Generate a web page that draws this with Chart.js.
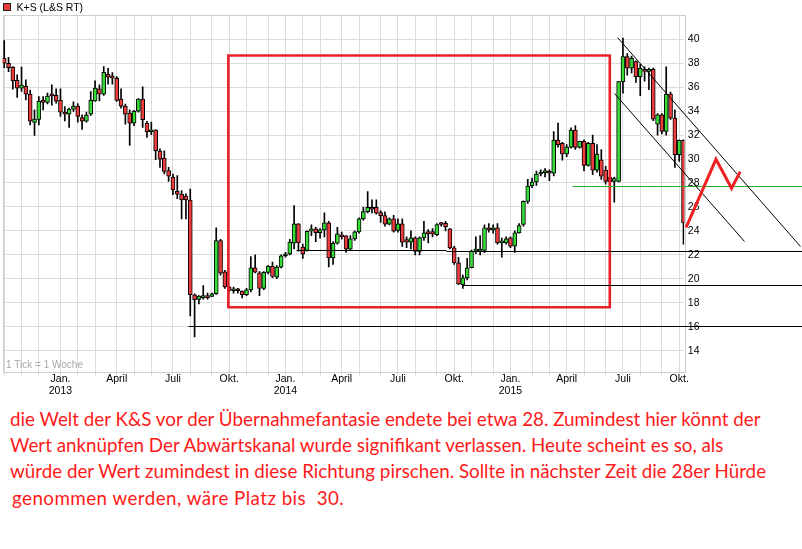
<!DOCTYPE html>
<html>
<head>
<meta charset="utf-8">
<script src="https://cdn.jsdelivr.net/npm/chart.js@4.4.1/dist/chart.umd.min.js"></script>
<style>
body { margin: 0; background: #fff; }
#box { position: relative; width: 802px; height: 400px; }
#note { position: absolute; left: 10px; top: 406px; font-family: Lato, sans-serif; font-size: 18.8px; line-height: 26.2px; color: #ff1a1a; white-space: nowrap; }
#note span { display: block; }
</style>
</head>
<body>
<div id="box"><canvas id="kurs" width="802" height="400"></canvas></div>
<div id="note">
<span>die Welt der K&amp;S vor der Übernahmefantasie endete bei etwa 28. Zumindest hier könnt der</span>
<span>Wert anknüpfen Der Abwärtskanal wurde signifikant verlassen. Heute scheint es so, als</span>
<span>würde der Wert zumindest in diese Richtung pirschen. Sollte in nächster Zeit die 28er Hürde</span>
<span style="letter-spacing:0.45px;padding-left:2px">genommen werden, wäre Platz bis&nbsp; 30.</span>
</div>
<script>
// weekly candles, first week starts monday 2012-10-01
const firstWeek = Date.UTC(2012, 9, 1)

const open = [38.42,38.00,37.67,36.58,35.92,36.08,35.42,33.06,33.31,34.92,34.72,35.36,35.33,34.92,33.92,33.75,34.17,34.42,33.47,33.17,
  33.75,34.86,35.86,35.42,37.08,36.94,36.75,35.00,34.42,33.83,33.00,34.00,35.00,33.00,32.28,32.42,30.67,30.08,29.03,28.50,
  27.33,27.08,26.90,26.58,18.67,18.28,18.42,18.58,18.53,18.75,23.19,20.58,19.33,19.00,19.03,18.97,18.67,19.08,20.92,20.50,
  19.19,20.53,21.03,20.14,20.97,21.92,22.08,22.97,24.58,22.64,22.36,23.97,24.17,23.86,24.08,24.67,21.75,22.97,23.60,23.58,
  22.47,23.33,23.92,25.00,25.61,25.97,25.97,25.53,25.28,24.56,25.00,24.03,24.58,23.28,23.06,23.42,22.28,23.42,23.94,23.94,
  23.69,24.64,24.64,24.17,22.58,21.33,19.50,20.08,20.92,22.31,22.31,22.36,24.25,24.08,24.25,23.00,23.00,23.42,22.72,23.83,
  24.53,26.47,27.75,28.08,28.75,28.86,28.97,28.81,31.58,31.31,30.42,31.00,32.42,30.97,31.47,29.47,31.31,29.08,29.94,29.08,
  28.47,28.14,28.14,36.47,38.56,37.58,38.14,36.89,37.50,37.31,37.50,32.92,33.69,32.31,35.42,33.42,30.36,31.56]
const high = [39.89,38.50,37.72,37.03,37.69,36.61,35.75,34.11,35.22,35.22,35.50,36.19,35.86,35.86,34.39,34.25,34.78,34.64,33.69,33.92,
  35.64,36.53,36.19,37.72,37.58,37.22,36.89,35.86,34.58,34.11,34.06,35.06,36.03,33.14,33.08,32.47,30.86,30.69,29.31,28.75,
  28.61,27.36,27.10,27.50,18.75,18.60,19.44,18.80,18.80,24.25,23.30,20.70,19.40,19.30,19.20,19.00,19.20,21.86,22.00,20.60,
  20.60,21.10,21.40,21.10,22.00,22.20,23.30,26.11,24.60,22.90,24.00,24.50,24.30,24.20,25.50,24.80,23.10,24.30,23.90,23.60,
  23.60,24.00,25.10,25.97,27.28,26.60,26.60,25.70,25.60,25.10,25.30,25.00,25.00,23.50,24.00,23.50,23.50,24.80,24.10,24.20,
  24.60,24.70,24.80,24.20,22.70,21.80,20.30,21.70,22.40,23.50,23.60,24.50,24.60,24.50,24.60,23.40,23.50,23.50,24.00,24.60,
  26.50,28.30,28.40,29.00,29.10,29.20,29.10,32.30,33.00,31.40,31.20,32.60,32.80,31.50,31.60,31.40,32.00,31.20,30.80,29.40,
  28.80,28.50,36.50,40.10,38.80,38.60,38.20,37.90,37.70,37.60,37.60,33.80,33.80,37.70,35.60,34.10,31.60,31.60]
const low = [37.64,37.30,35.83,35.14,35.64,34.94,32.86,31.97,32.86,34.11,34.61,34.50,34.67,33.56,33.19,32.64,33.97,33.08,32.47,33.08,
  33.64,34.81,34.86,35.31,36.25,36.25,34.81,34.25,32.92,31.14,32.78,33.92,32.64,31.81,32.03,29.94,29.31,28.75,28.14,27.03,
  26.69,25.00,25.00,16.89,15.14,17.90,18.30,18.30,18.50,18.70,20.30,19.20,18.90,18.80,18.80,18.40,18.60,18.90,20.50,18.60,
  19.10,20.40,20.10,20.00,20.90,21.80,22.00,22.50,22.30,21.70,22.30,23.60,23.10,23.40,23.50,21.00,21.20,22.90,23.30,22.20,
  22.40,23.20,23.80,24.90,25.50,25.50,25.40,24.70,24.40,24.50,23.90,23.90,22.70,22.60,22.50,22.00,22.00,23.20,23.00,23.50,
  23.60,24.40,24.00,22.50,21.20,19.50,19.20,19.90,20.90,22.10,22.00,22.20,23.90,23.80,22.90,21.80,22.90,22.60,22.20,23.80,
  24.40,26.30,27.60,27.80,28.60,28.50,28.20,28.60,31.00,29.90,30.20,30.90,30.80,30.90,29.00,29.40,28.70,28.90,28.30,27.90,
  27.00,26.40,28.10,35.50,37.00,37.20,36.40,35.30,36.50,35.80,33.20,32.00,32.10,32.00,33.30,29.30,29.80,22.90]
const close = [38.00,37.64,36.53,35.92,36.17,35.42,33.17,33.33,34.83,34.72,35.25,35.28,34.83,33.92,33.75,34.17,34.42,33.56,33.17,33.67,
  34.92,35.92,35.42,37.25,36.83,36.75,34.89,34.42,33.75,33.00,34.00,35.00,33.28,32.28,32.42,30.69,30.00,28.97,28.56,27.42,
  27.06,26.58,26.58,18.67,18.25,18.56,18.58,18.42,18.75,23.19,20.47,19.33,19.03,19.10,19.00,18.67,19.08,20.92,20.56,19.19,
  20.53,21.03,20.19,20.97,21.92,22.08,23.06,24.58,23.00,22.08,23.97,24.17,23.86,24.08,24.67,21.75,22.97,23.75,23.50,22.47,
  23.33,23.92,25.00,25.61,25.97,25.81,25.47,25.28,24.56,25.00,23.97,24.58,23.06,23.06,23.42,22.28,23.42,23.83,23.75,23.72,
  24.53,24.53,24.36,22.58,21.33,19.58,20.08,20.92,22.31,22.42,22.42,24.25,24.08,24.25,23.00,23.05,23.33,22.72,23.83,24.44,
  26.47,27.75,28.08,28.75,28.92,28.97,28.81,31.58,31.19,30.42,31.00,32.42,30.97,31.47,29.47,31.31,29.08,30.42,28.56,28.14,
  28.08,28.36,36.47,38.56,37.58,38.42,36.89,37.58,37.31,37.50,33.33,33.69,32.31,35.42,33.42,30.36,31.56,24.67]

const monthNames = ['Jan.', '', '', 'April', '', '', 'Juli', '', '', 'Okt.', '', '']
const yTickValues = [14, 16, 18, 20, 22, 24, 26, 28, 30, 32, 34, 36, 38, 40]

// drawings on the chart, in (week, price)
const redBox = [[51.8, 38.65], [139.96, 38.65], [139.96, 17.62], [51.8, 17.62]]
const blackLevels = [
  [[42.55, 16.07], [184.4, 16.07]],
  [[67.4, 22.41], [102.1, 22.41]],
  [[102.1, 22.3], [184.4, 22.3]],
  [[105.7, 19.48], [184.4, 19.48]]
]
const greenLevel = [[131.2, 27.75], [184.4, 27.78]]
const channel = [
  [[141.7, 40.22], [183.9, 22.74]],
  [[141.0, 35.49], [171.0, 23.18]]
]
const zigzag = [[157.6, 24.30], [164.5, 29.98], [168.1, 27.56], [170.1, 28.94]]

const GREEN = '#35dc35'
const RED = '#ee3c3c'

// month grid: week that holds the 1st of the month (sunday counts to next week)
const monthTicks = []
for (let y = 2012, m = 9; y < 2015 || (y === 2015 && m <= 9);) {
  const days = (Date.UTC(y, m, 1) - firstWeek) / 864e5
  const week = Math.floor((days + 1) / 7)
  let label = week > 3 ? monthNames[m] : ''
  if (label && m === 0) label = [label, String(y)]
  monthTicks.push({ week, label })
  m++
  if (m > 11) { m = 0; y++ }
}

const bodies = open.map((o, i) => ({ x: i, y: [Math.min(o, close[i]), Math.max(o, close[i])] }))
const wicks = low.map((l, i) => ({ x: i, y: [l, high[i]] }))
const bodyColors = open.map((o, i) => close[i] >= o ? GREEN : RED)

const lines = [
  { pts: redBox, color: '#e8202a', width: 2.6, closed: true },
  ...blackLevels.map(p => ({ pts: p, color: '#000', width: 1 })),
  { pts: greenLevel, color: '#27b027', width: 1 },
  ...channel.map(p => ({ pts: p, color: '#000', width: 1 })),
  { pts: zigzag, color: '#ee2222', width: 3 }
]

const extras = {
  id: 'extras',
  beforeDatasetsDraw(chart) {
    const { ctx, chartArea: a } = chart
    ctx.save()
    ctx.strokeStyle = '#cfcfcf'
    ctx.lineWidth = 1
    ctx.strokeRect(Math.round(a.left) + 0.5, Math.round(a.top) + 0.5, Math.round(a.right - a.left), Math.round(a.bottom - a.top))
    ctx.fillStyle = '#a8a8a8'
    ctx.font = '10px "Liberation Sans"'
    ctx.fillText('1 Tick = 1 Woche', 6, 368)
    // legend
    ctx.fillStyle = RED
    ctx.fillRect(3, 3, 7, 7)
    ctx.strokeStyle = '#222'
    ctx.strokeRect(3.5, 3.5, 7, 7)
    ctx.fillStyle = '#000'
    ctx.font = '10.5px "Liberation Sans"'
    ctx.fillText('K+S (L&S RT)', 16.5, 10.5)
    ctx.restore()
  },
  afterDatasetsDraw(chart) {
    const { ctx, scales: { x, y } } = chart
    ctx.save()
    lines.forEach(l => {
      ctx.beginPath()
      l.pts.forEach(([w, v], k) => {
        let px = x.getPixelForValue(w), py = y.getPixelForValue(v)
        if (l.width === 1) { px = Math.round(px) + 0.5; py = Math.round(py) + 0.5 }
        k ? ctx.lineTo(px, py) : ctx.moveTo(px, py)
      })
      if (l.closed) ctx.closePath()
      ctx.strokeStyle = l.color
      ctx.lineWidth = l.width
      ctx.lineJoin = 'miter'
      ctx.stroke()
    })
    ctx.restore()
  }
}

const tickFont = { family: 'Liberation Sans', size: 10.5, lineHeight: 1.12 }

new Chart(document.getElementById('kurs'), {
  type: 'bar',
  data: {
    datasets: [
      { data: bodies, backgroundColor: bodyColors, borderColor: '#000', borderWidth: 1, borderSkipped: false,
        barThickness: 4, minBarLength: 2, grouped: false, order: 1 },
      { data: wicks, backgroundColor: '#000', borderWidth: 0, barThickness: 1, minBarLength: 1, grouped: false, order: 2 }
    ]
  },
  options: {
    responsive: false,
    animation: false,
    layout: { padding: { top: 15, left: 2.7, right: 0, bottom: 0 } },
    plugins: { legend: { display: false }, tooltip: { enabled: false } },
    scales: {
      x: {
        type: 'linear', min: -0.35, max: 157.18, offset: false,
        grid: { color: '#dcdcdc', tickLength: 4, offset: false },
        border: { display: false },
        afterBuildTicks: s => { s.ticks = monthTicks.map(t => ({ value: t.week })) },
        ticks: { autoSkip: false, maxRotation: 0, padding: -2, color: '#000', font: tickFont,
          callback: (v, i) => monthTicks[i] ? monthTicks[i].label : '' },
        afterFit: s => { s.height = 28.3 }
      },
      y: {
        position: 'right', min: 12.24, max: 42.03,
        grid: { color: '#dcdcdc', drawTicks: false },
        border: { display: false },
        afterBuildTicks: s => { s.ticks = yTickValues.map(v => ({ value: v })) },
        ticks: { padding: 3.5, color: '#000', font: tickFont, callback: v => String(v) },
        afterFit: s => { s.width = 117.7 }
      }
    }
  },
  plugins: [extras]
})
</script>
</body>
</html>
